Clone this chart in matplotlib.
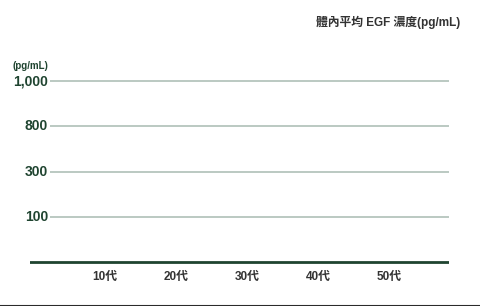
import matplotlib
matplotlib.use("Agg")
import matplotlib.pyplot as plt
from matplotlib.lines import Line2D

plt.rcParams['font.family'] = ['Liberation Sans', 'Noto Sans CJK TC', 'DejaVu Sans']

categories = ["10代", "20代", "30代", "40代", "50代"]
y_tick_labels = ["100", "300", "800", "1,000"]
values = []  # no bars shown in the reference

title = "體內平均 EGF 濃度(pg/mL)"
unit = "(pg/mL)"

green = "#1f4430"
grid_c = "#a8bab1"
text_c = "#333333"

fig = plt.figure(figsize=(4.8, 3.06), dpi=100)
ax = fig.add_axes([30/480, (306-265)/306, (449-30)/480, (265-50)/306])

xpos = list(range(len(categories)))
x0 = (30 - 105) / 71
x1 = (449 - 105) / 71
ax.set_xlim(x0, x1)
ax.set_ylim(-3/45.25, (262 - 50) / 45.25)

ypos = list(range(1, len(y_tick_labels) + 1))
ax.hlines(ypos, (50 - 105) / 71, x1, colors=grid_c, lw=1.1)
ax.axhline(0, color=green, lw=2.0, xmin=0, xmax=1)

for s in ax.spines.values():
    s.set_visible(False)
ax.set_xticks(xpos)
ax.set_xticklabels(categories, fontsize=8.5, fontweight='bold', color=text_c)
ax.set_yticks([])
ax.tick_params(axis='x', length=0, pad=4)

for p, lab in zip(ypos, y_tick_labels):
    ax.text((48 - 105) / 71, p, lab, ha='right', va='center', fontsize=10,
            fontweight='bold', color=green)
ax.text((13 - 105) / 71, (262 - 66) / 45.25, unit, ha='left', va='center',
        fontsize=7, fontweight='bold', color=green)

fig.text(460/480, 1 - 22/306, title, ha='right', va='center', fontsize=8.5,
         fontweight='bold', color=text_c)

fig.add_artist(Line2D([0, 1], [0.5/306, 0.5/306], color="#2b2b2b", lw=1.5,
                      transform=fig.transFigure))

fig.savefig("out.png", dpi=100, facecolor='white')
